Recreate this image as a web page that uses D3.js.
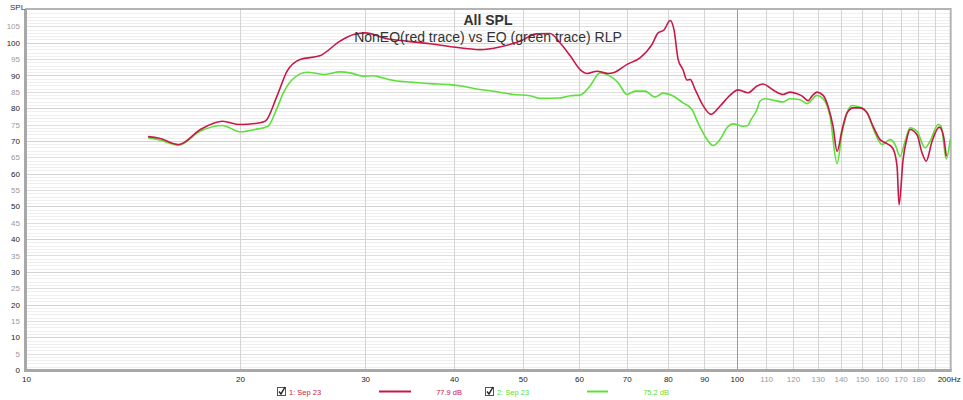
<!DOCTYPE html>
<html><head><meta charset="utf-8">
<script src="https://cdn.jsdelivr.net/npm/d3@7/dist/d3.min.js"></script>
<style>
html,body{margin:0;padding:0;background:#fff;}
svg{display:block;font-family:"Liberation Sans",Arial,sans-serif;}
</style></head>
<body><svg id="c" width="963" height="400"></svg>
<script>
// ---- data ----
const redFreq = [14.85,15.4,16.4,17.6,18.9,20.0,21.0,21.7,22.55,23.3,24.3,25.9,27.66,28.9,30.0,32.2,34.3,37.0,39.9,43.5,46.4,49.6,52.3,54.6,56.4,58.3,60.2,61.6,63.6,65.9,67.0,70.1,73.1,76.0,77.5,79.0,80.6,81.6,82.7,84.0,85.1,86.0,87.4,89.5,92.0,94.7,97.9,100.4,103.7,106.8,108.9,111.4,113.2,116.2,118.9,121.6,123.6,126.0,127.6,129.7,132.3,134.4,136.6,138.4,140.7,143.0,145.8,149.1,152.5,155.5,159.1,162.7,165.9,168.1,169.2,171.4,173.6,175.3,179.3,182.3,184.7,188.3,192.7,195.2,197.1];
const redSPL  = [71.3,70.8,68.9,73.5,76.0,75.0,75.3,76.0,83.7,91.3,94.9,96.0,100.5,102.5,103.0,101.2,100.5,99.7,98.7,97.9,98.7,100.5,102.7,102.8,100.0,96.0,91.8,90.6,91.3,90.6,90.8,93.4,95.4,99.5,103.0,103.9,106.8,104.0,94.9,91.8,88.6,88.8,85.7,81.1,78.1,80.6,84.0,85.6,84.7,86.8,87.4,86.2,85.2,84.2,84.9,84.4,83.7,82.3,83.7,84.9,83.9,80.6,74.5,66.8,73.5,78.6,80.1,80.1,78.6,74.5,70.4,69.2,67.6,62.2,50.5,64.3,70.9,73.5,71.9,66.3,63.8,69.9,74.2,71.9,65.3];
const greenFreq = [14.85,15.4,16.4,17.6,18.9,20.0,21.0,21.9,22.55,23.0,23.76,24.86,26.2,27.66,28.57,29.8,30.78,31.79,33.26,34.7,37.0,39.5,41.2,43.5,46.0,48.45,51.2,52.9,56.4,58.3,60.2,62.17,64.2,66.34,68.08,70.1,71.93,74.3,76.75,78.76,81.4,84.04,86.5,88.2,90.26,92.6,94.7,96.9,98.8,102.06,103.7,104.4,106.8,107.8,109.6,113.2,116.2,118.85,122.76,125.57,129.71,132.26,135.29,138.4,140.66,142.96,145.3,149.11,152.53,156.53,160.12,164.31,167.0,169.73,172.5,175.32,179.34,184.05,187.06,192.05,193.93,197.1,199.7];
const greenSPL  = [71.0,70.3,68.7,73.0,74.7,72.8,73.5,74.5,80.0,84.5,89.0,91.0,90.3,91.1,90.8,89.8,89.9,89.2,88.3,88.0,87.5,87.2,86.7,85.7,85.0,84.2,83.8,83.0,83.1,83.8,84.0,86.8,90.8,89.8,87.8,84.2,85.2,85.2,83.4,84.6,83.7,81.6,79.6,75.5,71.4,68.6,70.4,74.0,75.2,74.5,74.7,76.0,79.6,82.1,82.9,82.3,81.9,82.9,82.6,81.4,83.9,82.9,77.5,63.1,72.4,78.6,80.8,80.3,78.6,72.4,68.9,70.4,68.9,65.3,69.9,74.0,72.9,67.9,69.9,75.0,74.5,64.5,70.4];
const yTicks = d3.range(0, 110, 5);
const xTickLabels = [10,20,30,40,50,60,70,80,90,100,110,120,130,140,150,160,170,180,200];
const xGrid = [20,30,40,50,60,70,80,90,100,110,120,130,140,150,160,170,180,190];
const seriesNames = ["1: Sep 23","2: Sep 23"];
const seriesLevels = ["77.9 dB","75.2 dB"];
const seriesColors = ["#c81848","#5ee03a"];

// ---- chart ----
const svg = d3.select("#c");
const L = 26, R = 950.7, T = 10, B = 370;
const x = d3.scaleLog().domain([10,200]).range([L,R]);
const y = d3.scaleLinear().domain([0,110]).range([B,T]);

const g = svg.append("g");
// horizontal grid every 1 dB
g.selectAll("line.h").data(d3.range(1,110,1)).join("line")
  .attr("x1",L).attr("x2",R)
  .attr("y1",d=>Math.round(y(d))+0.5).attr("y2",d=>Math.round(y(d))+0.5)
  .attr("stroke",d=> d%10===0 ? "#d2d2d2" : (d%5===0 ? "#dedede" : "#efefef"))
  .attr("stroke-width",1);
// vertical grid
g.selectAll("line.v").data(xGrid).join("line")
  .attr("y1",T).attr("y2",B)
  .attr("x1",d=>Math.round(x(d))+0.5).attr("x2",d=>Math.round(x(d))+0.5)
  .attr("stroke",d=> d===100 ? "#9a9a9a" : "#d4d4d4")
  .attr("stroke-width",1);

// border
svg.append("rect").attr("x",L).attr("y",T-1).attr("width",R-L).attr("height",B-T+1)
  .attr("fill","none").attr("stroke","#b4b4b4").attr("stroke-width",2);
svg.append("line").attr("x1",L-0.5).attr("x2",L-0.5).attr("y1",T-1).attr("y2",B+1)
  .attr("stroke","#a8a8a8").attr("stroke-width",3);
svg.append("line").attr("x1",L-2).attr("x2",R+1).attr("y1",B+0.5).attr("y2",B+0.5)
  .attr("stroke","#a8a8a8").attr("stroke-width",3);

// y axis labels
const yAxis = d3.axisLeft(y).tickValues(yTicks).tickSize(0).tickPadding(5);
const ya = svg.append("g").attr("transform",`translate(${L-1},0)`).call(yAxis);
ya.select(".domain").remove();
ya.selectAll("text").attr("font-size",8).attr("font-family","Liberation Sans, Arial")
  .attr("fill",d=> d%10===0 ? "#222" : "#9a9a9a");

// x axis labels
const xAxis = d3.axisBottom(x).tickValues(xTickLabels).tickSize(0).tickPadding(5)
  .tickFormat(d=> d===200 ? "200Hz" : String(d));
const xa = svg.append("g").attr("transform",`translate(0,${B+1})`).call(xAxis);
xa.select(".domain").remove();
xa.selectAll("text").attr("font-size",8).attr("font-family","Liberation Sans, Arial")
  .attr("fill",d=> (d>100 && d<200) ? "#9a9a9a" : "#222");
xa.selectAll(".tick").filter(d=>d===200).select("text").attr("dx","-2");

svg.append("text").attr("x",10).attr("y",10).attr("font-size",8).attr("fill","#333").text("SPL");

// lines
const line = d3.line().x(d=>x(d[0])).y(d=>y(d[1])).curve(d3.curveMonotoneX);
const gData = greenFreq.map((f,i)=>[f,greenSPL[i]]);
const rData = redFreq.map((f,i)=>[f,redSPL[i]]);
svg.append("path").datum(gData).attr("d",line).attr("fill","none")
  .attr("stroke",seriesColors[1]).attr("stroke-width",1.6);
svg.append("path").datum(rData).attr("d",line).attr("fill","none")
  .attr("stroke",seriesColors[0]).attr("stroke-width",1.6);

// titles
svg.append("text").attr("x",488).attr("y",25).attr("text-anchor","middle")
  .attr("font-size",14).attr("font-weight","bold").attr("fill","#333").text("All SPL");
svg.append("text").attr("x",488).attr("y",42).attr("text-anchor","middle")
  .attr("font-size",14).attr("fill","#333").text("NonEQ(red trace) vs EQ (green trace) RLP");

// legend
const legX = [277, 485];
const lg = svg.selectAll("g.leg").data(seriesNames).join("g").attr("class","leg")
  .attr("transform",(d,i)=>`translate(${legX[i]},387)`);
lg.append("rect").attr("x",0.5).attr("y",0.5).attr("width",8).attr("height",8)
  .attr("fill","#fff").attr("stroke","#555");
lg.append("path").attr("d","M2,4.5 L4,7 L8,0").attr("fill","none").attr("stroke","#222").attr("stroke-width",1.5);
lg.append("text").attr("x",12).attr("y",7.5).attr("font-size",7.5)
  .attr("fill",(d,i)=>seriesColors[i]).text(d=>d);
lg.append("line").attr("x1",(d,i)=> i===0 ? 102 : 102).attr("x2",(d,i)=> i===0 ? 134 : 123)
  .attr("y1",4.5).attr("y2",4.5).attr("stroke",(d,i)=>seriesColors[i]).attr("stroke-width",2);
lg.append("text").attr("x",(d,i)=> i===0 ? 185 : 184).attr("y",7.5).attr("font-size",7.5)
  .attr("text-anchor","end").attr("fill",(d,i)=>seriesColors[i]).text((d,i)=>seriesLevels[i]);
</script></body></html>
